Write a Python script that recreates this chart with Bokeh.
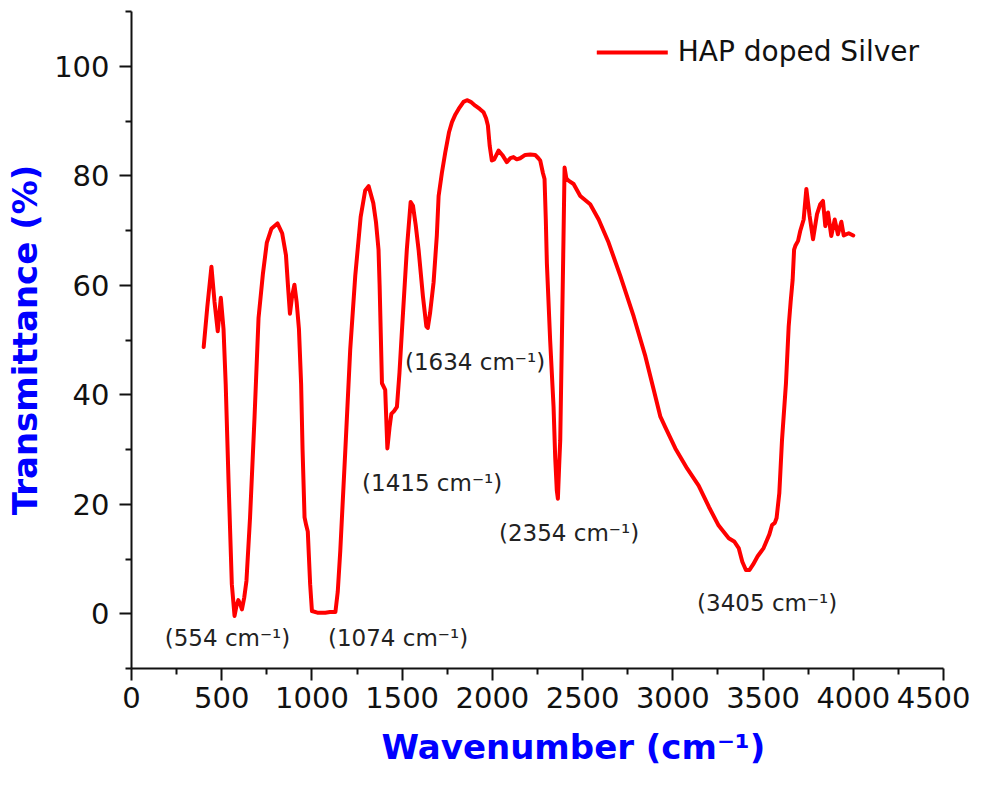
from bokeh.plotting import figure
from bokeh.models import ColumnDataSource, FixedTicker, Legend, LegendItem, Title
from bokeh.core.properties import value
from bokeh.embed import file_html
from bokeh.resources import INLINE

# ---- data ----
wavenumber = [400, 420, 443, 460, 478, 495, 510, 522, 538, 556, 571, 582, 592, 602, 612, 625, 637,
              657, 682, 704, 728, 750, 775, 809, 835, 856, 867, 878, 890, 903, 915, 928, 940, 948,
              959, 968, 977, 990, 1000, 1030, 1074, 1100, 1130, 1143, 1157, 1185, 1212, 1240, 1270,
              1295, 1314, 1340, 1355, 1369, 1375, 1388, 1406, 1418, 1430, 1440, 1455, 1471, 1485,
              1498, 1526, 1547, 1560, 1575, 1591, 1615, 1634, 1642, 1655, 1674, 1692, 1702, 1720,
              1739, 1760, 1776, 1795, 1813, 1840, 1859, 1880, 1905, 1930, 1951, 1965, 1975, 1985,
              1997, 2010, 2034, 2055, 2080, 2100, 2117, 2135, 2154, 2182, 2210, 2237, 2255, 2265,
              2280, 2289, 2296, 2302, 2320, 2339, 2348, 2357, 2363, 2370, 2376, 2385, 2394, 2400,
              2410, 2422, 2450, 2487, 2542, 2589, 2644, 2709, 2783, 2848, 2894, 2931, 2958, 3014,
              3080, 3143, 3200, 3254, 3310, 3340, 3365, 3385, 3405, 3425, 3445, 3470, 3503, 3535,
              3550, 3565, 3575, 3590, 3605, 3627, 3642, 3653, 3664, 3672, 3679, 3694, 3706, 3725,
              3740, 3758, 3777, 3799, 3817, 3832, 3845, 3860, 3878, 3897, 3915, 3934, 3947, 3975,
              4000]
transmittance = [48.7, 56.0, 63.4, 57.0, 51.6, 57.7, 52.0, 42.0, 24.0, 5.4, -0.4, 1.5, 2.5, 1.8, 0.8,
                 3.0, 6.0, 17.6, 36.0, 54.0, 62.0, 67.8, 70.3, 71.3, 69.5, 65.5, 60.0, 54.8, 58.0,
                 60.1, 57.0, 52.0, 42.0, 30.0, 17.6, 16.2, 15.0, 5.4, 0.5, 0.2, 0.2, 0.3, 0.3, 4.0,
                 11.5, 29.9, 48.2, 61.7, 72.5, 77.3, 78.1, 75.0, 71.5, 66.5, 60.0, 42.1, 40.9, 30.2,
                 34.0, 36.5, 37.0, 37.8, 44.0, 51.3, 66.6, 75.2, 74.5, 71.0, 66.5, 58.0, 52.5, 52.2,
                 55.0, 60.5, 69.0, 76.3, 80.5, 84.3, 88.0, 89.8, 91.2, 92.2, 93.5, 93.8, 93.5, 92.8,
                 92.2, 91.6, 90.5, 89.2, 85.5, 82.8, 83.0, 84.6, 83.8, 82.5, 83.2, 83.4, 83.0, 83.2,
                 83.8, 83.9, 83.8, 83.2, 82.8, 80.5, 79.4, 72.0, 64.0, 50.0, 37.8, 28.6, 22.5, 21.0,
                 27.0, 31.7, 50.0, 68.4, 81.5, 79.5, 79.1, 78.5, 76.3, 74.8, 72.0, 67.8, 61.7, 54.3,
                 47.0, 40.9, 36.0, 34.1, 30.2, 26.5, 23.4, 19.5, 16.1, 13.8, 13.2, 12.0, 9.5, 8.0,
                 8.0, 9.0, 10.5, 12.0, 14.5, 16.2, 16.6, 17.5, 22.0, 31.7, 42.1, 52.5, 57.0, 61.0,
                 66.5, 67.2, 68.1, 69.9, 72.0, 77.6, 72.7, 68.4, 73.0, 74.8, 75.4, 70.8, 73.3, 69.0,
                 72.0, 69.3, 71.6, 69.1, 69.5, 69.1]

peak_labels = ["(554 cm\u207b\u00b9)", "(1074 cm\u207b\u00b9)", "(1415 cm\u207b\u00b9)",
               "(1634 cm\u207b\u00b9)", "(2354 cm\u207b\u00b9)", "(3405 cm\u207b\u00b9)"]
peak_label_x = [532, 1477, 1666, 1904, 2425, 3523]
peak_label_y = [-4.5, -4.5, 23.8, 46.0, 14.8, 1.9]

x_major = [0, 500, 1000, 1500, 2000, 2500, 3000, 3500, 4000, 4500]
x_minor = [250, 750, 1250, 1750, 2250, 2750, 3250, 3750, 4250]
y_major = [0, 20, 40, 60, 80, 100]
y_minor = [-10, 10, 30, 50, 70, 90, 110]

x_title = "Wavenumber (cm\u207b\u00b9)"
y_title = "Transmittance (%)"
series_name = "HAP doped Silver"

FONT = "DejaVu Sans"

p = figure(width=970, height=789, output_backend="svg", toolbar_location=None,
           x_range=(0, 4500), y_range=(-10, 110),
           min_border_left=131, min_border_right=27, min_border_top=11, min_border_bottom=121)
p.outline_line_color = None
p.xgrid.grid_line_color = None
p.ygrid.grid_line_color = None
p.background_fill_color = "white"
p.border_fill_color = "white"

src = ColumnDataSource(dict(x=wavenumber, y=transmittance))
r = p.line("x", "y", source=src, line_color="#ff0000", line_width=4, line_join="round", line_cap="round")

lab = ColumnDataSource(dict(x=peak_label_x, y=peak_label_y, t=peak_labels))
p.text("x", "y", text="t", source=lab, text_align="center", text_baseline="middle",
       text_font=value(FONT), text_font_size="23px", text_color="#222222")

for ax in (p.xaxis[0], p.yaxis[0]):
    ax.axis_line_width = 2
    ax.axis_line_color = "#111111"
    ax.major_tick_line_width = 2
    ax.minor_tick_line_width = 2
    ax.major_tick_line_color = "#111111"
    ax.minor_tick_line_color = "#111111"
    ax.major_tick_out = 12
    ax.major_tick_in = 0
    ax.minor_tick_out = 6
    ax.minor_tick_in = 0
    ax.major_label_text_font = FONT
    ax.major_label_text_font_size = "29px"
    ax.major_label_text_color = "#111111"
    ax.axis_label_text_font = FONT
    ax.axis_label_text_font_style = "bold"
    ax.axis_label_text_font_size = "34px"
    ax.axis_label_text_color = "#0000ff"

p.xaxis[0].ticker = FixedTicker(ticks=x_major, minor_ticks=x_minor)
p.yaxis[0].ticker = FixedTicker(ticks=y_major, minor_ticks=y_minor)
p.yaxis[0].axis_label = y_title
p.xaxis[0].major_label_standoff = 6
p.yaxis[0].major_label_standoff = 10
p.yaxis[0].axis_label_standoff = 6

# x-axis title, placed a little right of centre as in the reference
p.add_layout(Title(text=x_title, align="left", offset=250, standoff=28,
                   text_font=FONT, text_font_style="bold", text_font_size="34px",
                   text_color="#0000ff"), "below")

legend = Legend(items=[LegendItem(label=series_name, renderers=[r])],
                location="top_right", border_line_color=None, background_fill_alpha=0,
                label_text_font=FONT, label_text_font_size="28px", label_text_color="#111111",
                glyph_width=71, glyph_height=30, label_standoff=10, margin=24, padding=10)
p.add_layout(legend)

open("out.html", "w").write(file_html(p, INLINE))
